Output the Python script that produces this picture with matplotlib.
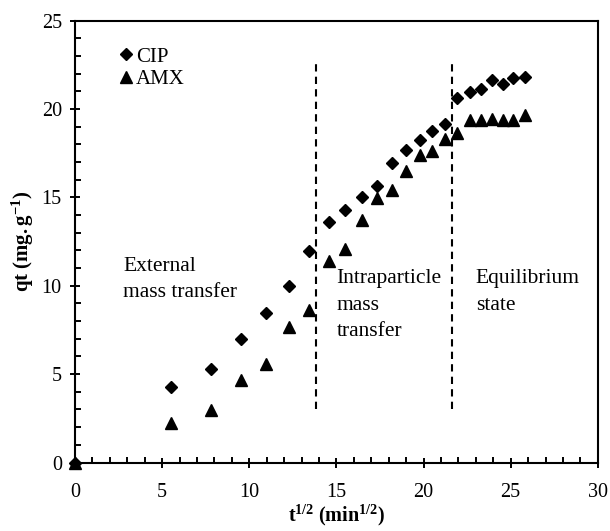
import numpy as np
import matplotlib.pyplot as plt

plt.rcParams['font.family'] = 'Liberation Serif'
plt.rcParams['mathtext.fontset'] = 'custom'
plt.rcParams['mathtext.rm'] = 'Liberation Serif'
plt.rcParams['mathtext.it'] = 'Liberation Serif:italic'
plt.rcParams['mathtext.bf'] = 'Liberation Serif:bold'

# square root of contact time (min^1/2)
t_sqrt = [0, 5.5, 7.8, 9.5, 10.95, 12.3, 13.45, 14.55, 15.5, 16.45, 17.35, 18.2,
          19.0, 19.8, 20.5, 21.25, 21.9, 22.65, 23.3, 23.9, 24.55, 25.15, 25.8]
# uptake qt (mg/g)
qt_cip = [0, 4.3, 5.3, 7.0, 8.45, 9.98, 11.95, 13.6, 14.27, 15.0, 15.66, 16.97,
          17.66, 18.27, 18.76, 19.15, 20.6, 20.95, 21.15, 21.62, 21.42, 21.76, 21.84]
qt_amx = [0, 2.26, 2.98, 4.68, 5.58, 7.66, 8.65, 11.4, 12.1, 13.74, 14.98, 15.4,
          16.47, 17.4, 17.65, 18.32, 18.67, 19.4, 19.4, 19.43, 19.38, 19.38, 19.68]

# stage boundaries
bounds = [13.8, 21.65]
bound_y = [3.0, 22.8]

stage_labels = ["External\nmass transfer", "Intraparticle\nmass\ntransfer", "Equilibrium\nstate"]
stage_x = [2.75, 15.0, 23.0]
stage_y = [11.65, 10.95, 10.95]

fig = plt.figure(figsize=(6.1, 5.31), dpi=100)
ax = fig.add_axes([0.123, 0.129, 0.857, 0.832])

ax.plot(t_sqrt, qt_cip, 'D', color='black', ms=6.3, clip_on=False, label='CIP')
ax.plot(t_sqrt, qt_amx, '^', color='black', ms=8.8, clip_on=False, label='AMX')

for b in bounds:
    ax.plot([b, b], bound_y, color='black', lw=1.5, linestyle=(0, (3.5, 2.5)))

for s, x, y in zip(stage_labels, stage_x, stage_y):
    ax.text(x, y, s, fontsize=15.5, va='top', ha='left', linespacing=1.55)

ax.set_xlim(0, 30)
ax.set_ylim(0, 25)
ax.set_xticks(np.arange(0, 31, 5))
ax.set_yticks(np.arange(0, 26, 5))
ax.set_xticks(np.arange(0, 31, 1), minor=True)
ax.set_yticks(np.arange(0, 26, 1), minor=True)
ax.tick_params(which='major', direction='inout', length=7, width=1.4, labelsize=14.5, pad=6)
ax.tick_params(axis='x', which='major', pad=11)
ax.tick_params(which='minor', direction='in', length=4, width=1.4)
for sp in ax.spines.values():
    sp.set_linewidth(1.5)

ax.set_xlabel(r'$\mathbf{t^{1/2}\ (min^{1/2})}$', fontsize=14.5, labelpad=1)
ax.set_ylabel(r'$\mathbf{qt\ (mg.g^{-1})}$', fontsize=15, labelpad=4)

ax.legend(loc='upper left', bbox_to_anchor=(0.063, 0.959), frameon=False, fontsize=15,
          handlelength=0.9, handletextpad=0.05, labelspacing=0.15, borderaxespad=0)

fig.savefig('out.png', dpi=100)
